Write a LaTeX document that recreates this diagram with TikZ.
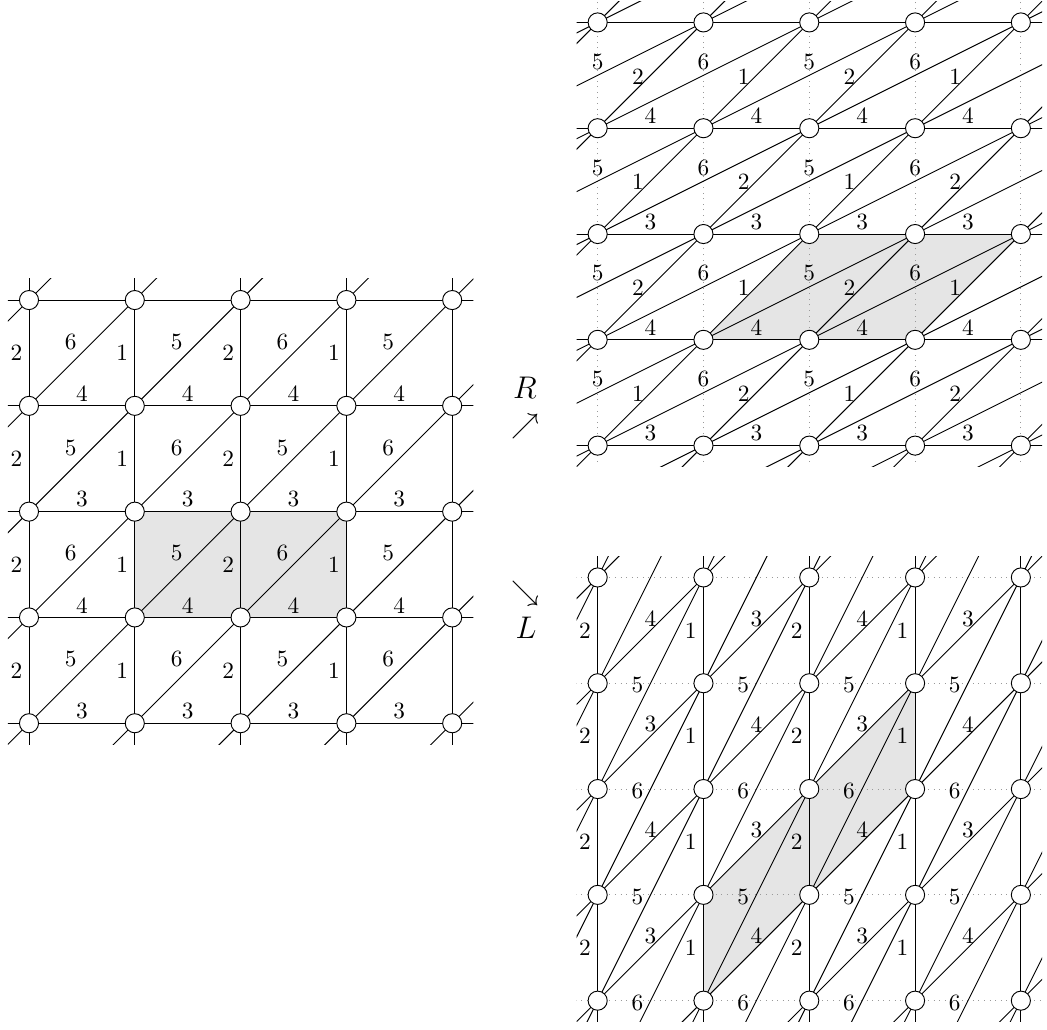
\documentclass[tikz,border=0pt]{standalone}
\usepackage{amsmath,amssymb}
\usepackage{tikz}
\usetikzlibrary{positioning}

\begin{document}
\begin{tikzpicture}[
    x=45.4pt, y=45.4pt,
    vtx/.style={circle, draw=black, fill=white, minimum size=8.2pt, inner sep=0pt},
    lbl/.style={inner sep=0pt},
    guide/.style={dotted, gray!80},
    cell/.style={fill=gray!20},
    letter/.style={font=\large, inner sep=0pt}
]
\useasboundingbox (0,0) rectangle (9.896,9.735);

% original lattice
\begin{scope}[shift={(0.274,2.899)}]
  \fill[cell] (1,1) rectangle (3,2);
  \begin{scope}
    \clip (-0.2,-0.2) rectangle (4.2,4.2);
    \foreach \k in {0,...,4} {\draw (-1,\k) -- (5,\k); \draw (\k,-1) -- (\k,5);}
    \foreach \c in {-4,...,4} \draw (\c-1,-1) -- (\c+5,5);
  \end{scope}
  \foreach \i in {0,...,3} \foreach \j in {0,...,3} {
    \pgfmathtruncatemacro\lv{2-mod(\i,2)}
    \pgfmathtruncatemacro\lh{3+mod(\j,2)}
    \pgfmathtruncatemacro\ld{5+mod(\i+\j,2)}
    \node[lbl] (a-v-\i-\j) at (\i-0.118,\j+0.5) {\lv};
    \node[lbl] (a-h-\i-\j) at (\i+0.5,\j+0.115) {\lh};
    \node[lbl] (a-d-\i-\j) at (\i+0.395,\j+0.605) {\ld};
  }
  \foreach \i in {0,...,4} \foreach \j in {0,...,4} \node[vtx] (a-\i-\j) at (\i,\j) {};
\end{scope}

% R
\begin{scope}[shift={(5.649,5.523)}]
  \fill[cell] (1,1) -- (3,1) -- (4,2) -- (2,2) -- cycle;
  \begin{scope}
    \clip (-0.2,-0.2) rectangle (4.2,4.2);
    \foreach \k in {0,...,4} \draw[guide] (\k,-1) -- (\k,5);
    \foreach \k in {0,...,4} \draw (-1,\k) -- (5,\k);
    \foreach \c in {-4,...,4} \draw (\c-1,-1) -- (\c+5,5);
    \foreach \c in {-8,...,4} \draw (\c-2,-1) -- (\c+10,5);
  \end{scope}
  \foreach \i in {0,...,3} \foreach \j in {0,...,3} {
    \pgfmathtruncatemacro\lh{3+mod(\j,2)}
    \pgfmathtruncatemacro\ls{1+mod(\i+\j,2)}
    \pgfmathtruncatemacro\lt{5+mod(\i,2)}
    \node[lbl] (r-h-\i-\j) at (\i+0.5,\j+0.115) {\lh};
    \node[lbl] (r-s-\i-\j) at (\i+0.38,\j+0.49) {\ls};
    \node[lbl] (r-t-\i-\j) at (\i,\j+0.628) {\lt};
  }
  \foreach \i in {0,...,4} \foreach \j in {0,...,4} \node[vtx] (r-\i-\j) at (\i,\j) {};
\end{scope}

% L
\begin{scope}[shift={(5.649,0.277)}]
  \fill[cell] (1,0) -- (1,1) -- (3,3) -- (3,2) -- cycle;
  \begin{scope}
    \clip (-0.2,-0.2) rectangle (4.2,4.2);
    \foreach \k in {0,...,4} \draw[guide] (-1,\k) -- (5,\k);
    \foreach \k in {0,...,4} \draw (\k,-1) -- (\k,5);
    \foreach \c in {-4,...,4} \draw (-1,\c-1) -- (5,\c+5);
    \foreach \c in {-8,...,4} \draw (-1,\c-2) -- (5,\c+10);
  \end{scope}
  \foreach \i in {0,...,3} \foreach \j in {0,...,3} {
    \pgfmathtruncatemacro\lv{2-mod(\i,2)}
    \pgfmathtruncatemacro\ls{3+mod(\i+\j,2)}
    \pgfmathtruncatemacro\lt{6-mod(\j,2)}
    \node[lbl] (l-v-\i-\j) at (\i-0.12,\j+0.5) {\lv};
    \node[lbl] (l-s-\i-\j) at (\i+0.5,\j+0.612) {\ls};
    \node[lbl] (l-t-\i-\j) at (\i+0.375,\j-0.02) {\lt};
  }
  \foreach \i in {0,...,4} \foreach \j in {0,...,4} \node[vtx] (l-\i-\j) at (\i,\j) {};
\end{scope}

\node[letter] (upR) at (4.962,5.702) {$\nearrow$};
\node[letter, scale=1.12] (nameR) at (4.962,6.068) {$R$};
\node[letter] (dnL) at (4.962,4.128) {$\searrow$};
\node[letter, scale=1.12] (nameL) at (4.971,3.800) {$L$};
\end{tikzpicture}
\end{document}
